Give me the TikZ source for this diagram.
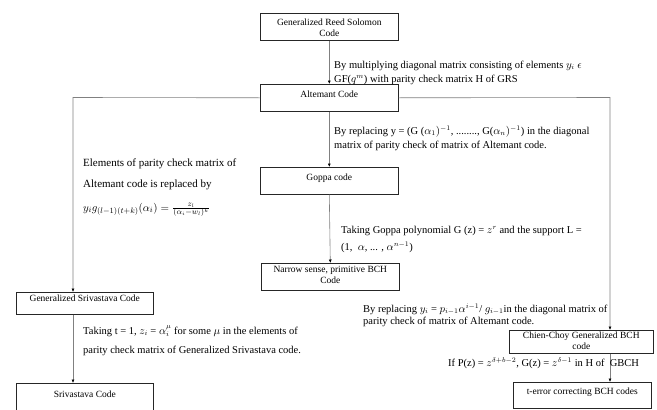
\documentclass[tikz,border=0pt]{standalone}
\usepackage{fontspec}
\setmainfont{Liberation Serif}
\usetikzlibrary{arrows.meta,calc}
\begin{document}
\begin{tikzpicture}[x=1pt,y=-1pt]
\tikzset{
 codebox/.style={draw=black!85, line width=0.6pt, inner sep=0pt, anchor=north west, minimum width=138pt, minimum height=27pt},
 boxtxt/.style={font=\fontsize{9.5}{11}\selectfont, align=center, anchor=north, inner sep=0pt},
 conn/.style={draw=black!50, line width=0.6pt},
 arr/.style={conn, -{Latex[length=3.5pt,width=3pt,black]}},
 lbl/.style={font=\fontsize{10.5}{14}\selectfont, anchor=base west, inner sep=0pt},
 lblbig/.style={font=\fontsize{11}{14}\selectfont, anchor=base west, inner sep=0pt},
}
\clip (0,0) rectangle (657,410);
\fill[white] (0,0) rectangle (657,410);
% boxes
\node[codebox, label={[boxtxt,yshift=-5.5pt]north:Generalized Reed Solomon\\Code}] (grs) at (260,13) {};
\node[codebox, label={[boxtxt,yshift=-6.5pt]north:Altemant Code}] (alt) at (260,84) {};
\node[codebox, label={[boxtxt,yshift=-6.5pt]north:Goppa code}] (gop) at (260,167) {};
\node[codebox, label={[boxtxt,yshift=-3pt]north:Narrow sense, primitive BCH\\Code}] (nar) at (261,263) {};
\node[codebox, minimum width=137pt, minimum height=22pt, label={[boxtxt,yshift=-3pt]north:Generalized Srivastava Code}] (gs) at (16,292) {};
\node[codebox, minimum width=137pt, minimum height=32pt, label={[boxtxt,yshift=-7.5pt]north:Srivastava Code}] (sri) at (16,383) {};
\node[codebox, minimum width=144pt, minimum height=23pt, label={[boxtxt,yshift=-1.5pt]north:Chien-Choy Generalized BCH\\code}] (cc) at (509,330) {};
\node[codebox, minimum height=26pt, label={[boxtxt,yshift=-5.5pt]north:t-error correcting BCH codes}] (te) at (513,382) {};
% connectors
\coordinate (lx) at (73,97.5);
\coordinate (rx) at (610,97.5);
\coordinate (cx) at (610,0);
\draw[arr] (grs.south) -- (alt.north);
\draw[arr] (alt.south) -- (gop.north);
\draw[arr] (gop.south) -- (nar.north);
\draw[arr] (alt.west) -- (lx) -- (lx |- gs.north);
\draw[arr] (alt.east) -- (rx) -- (rx |- cc.north);
\draw[arr] (lx |- gs.south) -- (lx |- sri.north);
\draw[arr] (cx |- cc.south) -- (cx |- te.north);
% labels
\node[lbl] (t1a) at (334,68) {By multiplying diagonal matrix consisting of elements $y_i$ $\epsilon$};
\node[lbl] (t1b) at (334,82) {GF($q^m$) with parity check matrix H of GRS};
\node[lbl] (t2a) at (334,134) {By replacing y = (G ($\alpha_1)^{-1}$, ........, G($\alpha_n)^{-1}$) in the diagonal};
\node[lbl] (t2b) at (334,148) {matrix of parity check of matrix of Altemant code.};
\node[lblbig] (t3a) at (83,166) {Elements of parity check matrix of};
\node[lblbig] (t3b) at (83,187) {Altemant code is replaced by};
\node[lblbig] (t3c) at (83,211) {$y_i g_{(l-1)(t+k)}(\alpha_i) = \frac{z_l}{(\alpha_i-w_l)^k}$};
\node[lbl] (t4a) at (341,233) {Taking Goppa polynomial G (z) = $z^r$ and the support L =};
\node[lbl] (t4b) at (341,250) {(1,\ \ $\alpha$, ... , $\alpha^{n-1}$)};
\node[lbl] (t5a) at (363,312) {By replacing $y_i$ = $p_{i-1}\alpha^{i-1}$/ $g_{i-1}$in the diagonal matrix of};
\node[lbl] (t5b) at (363,324) {parity check of matrix of Altemant code.};
\node[lbl] (t6) at (448,366) {If P(z) = $z^{\delta+b-2}$, G(z) = $z^{\delta-1}$ in H of\ \ GBCH};
\node[lbl] (t7a) at (83,334) {Taking t = 1, $z_i$ = $\alpha_i^{\mu}$ for some $\mu$ in the elements of};
\node[lbl] (t7b) at (83,353) {parity check matrix of Generalized Srivastava code.};
\end{tikzpicture}
\end{document}
